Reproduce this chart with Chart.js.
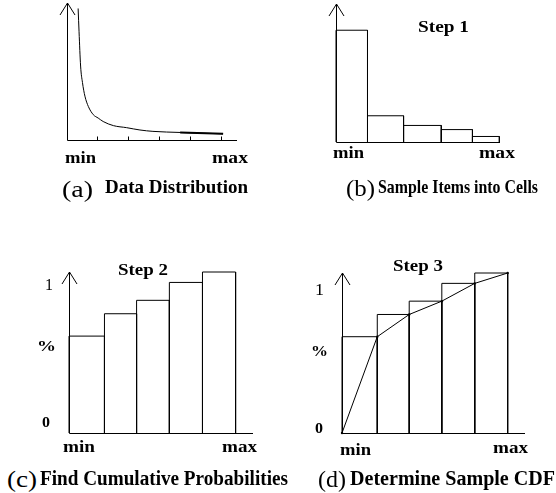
<!DOCTYPE html>
<html>
<head>
<meta charset="utf-8">
<script src="https://cdn.jsdelivr.net/npm/chart.js@4.4.1/dist/chart.umd.min.js"></script>
<style>
  html, body { margin: 0; padding: 0; background: #fff; }
  #wrap { position: relative; width: 556px; height: 493px; overflow: hidden; }
  #wrap canvas { position: absolute; }
  .lbl { position: absolute; font-family: "Liberation Serif", "Times New Roman", serif; line-height: 1; white-space: nowrap; color: #000; transform-origin: 0 0; }
</style>
</head>
<body>
<div id="wrap">
  <canvas id="chartA" width="278" height="200" style="left:0;top:0"></canvas>
  <canvas id="chartB" width="278" height="200" style="left:278px;top:0"></canvas>
  <canvas id="chartC" width="278" height="220" style="left:0;top:240px"></canvas>
  <canvas id="chartD" width="278" height="220" style="left:278px;top:240px"></canvas>
</div>
<script>
// (a) data distribution curve
const distX = [0.36, 0.39, 0.44, 0.50, 0.58, 0.69, 0.85, 1.01, 1.17, 1.50, 1.93, 2.36, 2.78, 3.66, 5.05];
const distY = [9.6, 7.9, 5.4, 4.2, 3.2, 2.45, 1.85, 1.6, 1.35, 1.05, 0.9, 0.73, 0.63, 0.55, 0.45];
const distTicks = [1, 2, 3, 4, 5];

// (b) sample items into cells (cell edges + item counts)
const cellEdges = [0, 0.96, 2.06, 3.21, 4.16, 4.98];
const cellCounts = [81, 19, 12, 9, 4];

// (c)/(d) cumulative probabilities per cell
const cumEdges = [0, 1.06, 2.02, 3.0, 3.99, 4.98];
const cumProb = [0.65, 0.80, 0.89, 1.01, 1.08];

const INK = '#000';

function outline(edges, heights){
    return heights.map((h, i) => ({
        data: [{x: edges[i], y: 0}, {x: edges[i], y: h}, {x: edges[i+1], y: h}, {x: edges[i+1], y: 0}],
        showLine: true, borderColor: INK, borderWidth: 1, pointRadius: 0, tension: 0, clip: false
    }));
}

// axes with open arrowhead on the y axis
const axesPlugin = {
    id: 'axes',
    beforeDatasetsDraw(chart, args, opts){
        const {ctx, chartArea} = chart;
        const xs = chart.scales.x, ys = chart.scales.y;
        const x0 = Math.floor(xs.getPixelForValue(0)) + 0.5;
        const y0 = Math.floor(ys.getPixelForValue(0)) + 0.5;
        const top = chartArea.top;
        ctx.save();
        ctx.strokeStyle = INK;
        ctx.lineWidth = 1;
        ctx.beginPath();
        ctx.moveTo(x0, y0); ctx.lineTo(x0, top);
        ctx.moveTo(x0, y0); ctx.lineTo(chartArea.right, y0);
        ctx.moveTo(x0 - 7.5, top + 12); ctx.lineTo(x0, top); ctx.lineTo(x0 + 7.5, top + 12);
        (opts.ticks || []).forEach(t => {
            const px = Math.floor(xs.getPixelForValue(t)) + 0.5;
            ctx.moveTo(px, y0); ctx.lineTo(px, y0 - 4);
        });
        ctx.stroke();
        ctx.restore();
    }
};

function makeChart(id, datasets, pad, xMax, yMax, ticks){
    return new Chart(document.getElementById(id).getContext('2d'), {
        type: 'scatter',
        data: { datasets },
        options: {
            responsive: false, animation: false, events: [],
            layout: { padding: pad },
            plugins: { legend: { display: false }, tooltip: { enabled: false }, axes: { ticks } },
            scales: {
                x: { type: 'linear', display: false, min: 0, max: xMax },
                y: { type: 'linear', display: false, min: 0, max: yMax }
            }
        },
        plugins: [axesPlugin]
    });
}

// (a)
const distPts = distX.map((x, i) => ({x, y: distY[i]}));
makeChart('chartA', [
    { data: distPts, showLine: true, borderColor: INK, borderWidth: 1, pointRadius: 0, cubicInterpolationMode: 'monotone', clip: false },
    { data: distPts.slice(-2), showLine: true, borderColor: INK, borderWidth: 2, pointRadius: 0, clip: false }
], {left: 67, right: 41, top: 3, bottom: 60}, 5.5, 10, distTicks);

// (b)
makeChart('chartB', outline(cellEdges, cellCounts), {left: 58, right: 56, top: 4, bottom: 58}, 5, 100, []);

// (c)
makeChart('chartC', outline(cumEdges, cumProb), {left: 69, right: 25, top: 32, bottom: 27}, 5.5, 1.08, []);

// (d) bars plus the piecewise linear sample CDF through the cell corners
const cdfPts = [{x: 0, y: 0}].concat(cumProb.map((p, i) => ({x: cumEdges[i+1], y: p})));
makeChart('chartD', outline(cumEdges, cumProb).concat([
    { data: cdfPts, showLine: true, borderColor: INK, borderWidth: 1, pointRadius: 1.2, pointBackgroundColor: INK, pointBorderWidth: 0, tension: 0, clip: false }
]), {left: 64, right: 31, top: 33, bottom: 27}, 5.5, 1.08, []);

// text labels: [text, left, baseline, size, weight, width]
const labels = [
    ['min', 65, 163, 16, 'bold', 31], ['max', 212, 163, 16, 'bold', 36],
    ['(a)', 62, 197, 24, 'normal', 31], ['Data Distribution', 105, 193, 19, 'bold', 143],

    ['Step 1', 418, 32, 16, 'bold', 51],
    ['min', 333, 158, 16, 'bold', 31], ['max', 479, 158, 16, 'bold', 36],
    ['(b)', 346, 196, 24, 'normal', 29], ['Sample Items into Cells', 378, 193, 19, 'bold', 160],

    ['Step 2', 118, 275, 16, 'bold', 50],
    ['1', 45, 290, 17, 'normal', 8], ['%', 37, 352, 15, 'bold', 19], ['0', 42, 428, 15, 'bold', 8],
    ['min', 63, 452, 16, 'bold', 32], ['max', 222, 452, 16, 'bold', 35],
    ['(c)', 7, 487, 24, 'normal', 30], ['Find Cumulative Probabilities', 40, 485, 20, 'bold', 248],

    ['Step 3', 393, 271, 16, 'bold', 50],
    ['1', 315, 295, 17, 'normal', 9], ['%', 311, 357, 15, 'bold', 17], ['0', 315, 434, 15, 'bold', 8],
    ['min', 340, 455, 16, 'bold', 31], ['max', 493, 453, 16, 'bold', 35],
    ['(d)', 318, 487, 24, 'normal', 28], ['Determine Sample CDF', 350, 485, 20, 'bold', 205]
];

const wrap = document.getElementById('wrap');
labels.forEach(([t, x, base, size, weight, w]) => {
    const s = document.createElement('span');
    s.className = 'lbl';
    s.textContent = t;
    s.style.fontSize = size + 'px';
    s.style.fontWeight = weight;
    s.style.left = x + 'px';
    s.style.top = (base - 0.8375 * size) + 'px';
    wrap.appendChild(s);
    const nat = s.getBoundingClientRect().width;
    if(nat > 0) s.style.transform = 'scaleX(' + (w / nat).toFixed(3) + ')';
});
</script>
</body>
</html>
